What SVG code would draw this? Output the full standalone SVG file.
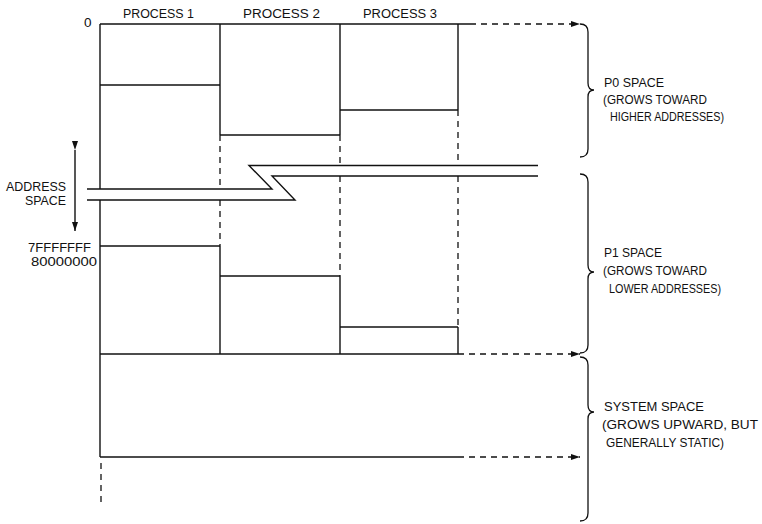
<svg xmlns="http://www.w3.org/2000/svg" width="762" height="524" viewBox="0 0 762 524">
<defs>
<style>
text{font-family:"Liberation Sans",Arial,sans-serif;font-size:12.5px;fill:#111}
.s{fill:none;stroke:#111;stroke-width:1.4}
.d{fill:none;stroke:#111;stroke-width:1.3;stroke-dasharray:6,5}
.b{fill:none;stroke:#111;stroke-width:1.3}
</style>
<marker id="ah" markerWidth="10" markerHeight="8" refX="9" refY="4" orient="auto" markerUnits="userSpaceOnUse">
<path d="M0,1 L9,4 L0,7 Z" fill="#111"/>
</marker>
</defs>
<rect width="762" height="524" fill="#fff"/>

<g id="headers">
<text x="123" y="18" textLength="71" lengthAdjust="spacingAndGlyphs">PROCESS 1</text>
<text x="243" y="18" textLength="77" lengthAdjust="spacingAndGlyphs">PROCESS 2</text>
<text x="363" y="18" textLength="74" lengthAdjust="spacingAndGlyphs">PROCESS 3</text>
<text x="84" y="27" style="font-size:13.5px">0</text>
</g>

<g id="process1">
<line class="s" x1="100" y1="85" x2="220" y2="85"/>
<line class="s" x1="100" y1="246" x2="220" y2="246"/>
</g>
<g id="process2">
<line class="s" x1="220" y1="135" x2="340" y2="135"/>
<line class="s" x1="220" y1="276" x2="340" y2="276"/>
</g>
<g id="process3">
<line class="s" x1="340" y1="110" x2="458" y2="110"/>
<line class="s" x1="340" y1="327" x2="458" y2="327"/>
</g>

<g id="frame">
<line class="s" x1="100" y1="24" x2="470" y2="24"/>
<line class="s" x1="100" y1="24" x2="100" y2="189"/>
<line class="s" x1="100" y1="200" x2="100" y2="457"/>
<line class="s" x1="220" y1="24" x2="220" y2="135"/>
<line class="d" x1="220" y1="135" x2="220" y2="189"/>
<line class="d" x1="220" y1="200" x2="220" y2="246"/>
<line class="s" x1="220" y1="246" x2="220" y2="354"/>
<line class="s" x1="340" y1="24" x2="340" y2="135"/>
<line class="d" x1="340" y1="135" x2="340" y2="166"/>
<line class="d" x1="340" y1="176" x2="340" y2="276"/>
<line class="s" x1="340" y1="276" x2="340" y2="354"/>
<line class="s" x1="458" y1="24" x2="458" y2="110"/>
<line class="d" x1="458" y1="110" x2="458" y2="165"/>
<line class="d" x1="458" y1="176" x2="458" y2="327"/>
<line class="s" x1="458" y1="327" x2="458" y2="354"/>
<line class="s" x1="100" y1="354" x2="458" y2="354"/>
<line class="s" x1="100" y1="457" x2="458" y2="457"/>
<line class="d" x1="101" y1="463" x2="101" y2="505"/>
</g>

<g id="break">
<path class="s" d="M87,189 H272 L249,165.5 H538"/>
<path class="s" d="M87,200 H295 L272,176 H538"/>
</g>

<g id="connectors">
<line class="d" x1="470" y1="24" x2="580" y2="24" marker-end="url(#ah)"/>
<line class="d" x1="458" y1="354" x2="580" y2="354" marker-end="url(#ah)"/>
<line class="d" x1="458" y1="457" x2="580" y2="457" marker-end="url(#ah)"/>
<line class="s" x1="75" y1="150" x2="75" y2="231" marker-start="url(#ah)" marker-end="url(#ah)"/>
</g>

<g id="address-labels">
<text x="66" y="191" text-anchor="end" textLength="60" lengthAdjust="spacingAndGlyphs">ADDRESS</text>
<text x="66" y="205" text-anchor="end" textLength="41" lengthAdjust="spacingAndGlyphs">SPACE</text>
<text x="28" y="252" textLength="63" lengthAdjust="spacingAndGlyphs">7FFFFFFF</text>
<text x="31" y="266" textLength="66" lengthAdjust="spacingAndGlyphs">80000000</text>
</g>

<g id="p0-space">
<path class="b" d="M580,24 Q588,24 588,32 L588,83 Q588,90 594,90 Q588,90 588,97 L588,149 Q588,157 580,157"/>
<text x="604" y="87" textLength="60" lengthAdjust="spacingAndGlyphs">P0 SPACE</text>
<text x="603" y="104" textLength="104" lengthAdjust="spacingAndGlyphs">(GROWS TOWARD</text>
<text x="610" y="121" textLength="114" lengthAdjust="spacingAndGlyphs">HIGHER ADDRESSES)</text>
</g>

<g id="p1-space">
<path class="b" d="M580,174 Q588,174 588,182 L588,265 Q588,272 594,272 Q588,272 588,279 L588,345 Q588,353 580,353"/>
<text x="604" y="257" textLength="58" lengthAdjust="spacingAndGlyphs">P1 SPACE</text>
<text x="603" y="275" textLength="104" lengthAdjust="spacingAndGlyphs">(GROWS TOWARD</text>
<text x="609" y="293" textLength="112" lengthAdjust="spacingAndGlyphs">LOWER ADDRESSES)</text>
</g>

<g id="system-space">
<path class="b" d="M580,357 Q588,357 588,365 L588,405 Q588,412 594,412 Q588,412 588,419 L588,513 Q588,521 580,521"/>
<text x="604" y="411" textLength="100" lengthAdjust="spacingAndGlyphs">SYSTEM SPACE</text>
<text x="602" y="429" textLength="156" lengthAdjust="spacingAndGlyphs">(GROWS UPWARD, BUT</text>
<text x="606" y="447" textLength="118" lengthAdjust="spacingAndGlyphs">GENERALLY STATIC)</text>
</g>
</svg>
